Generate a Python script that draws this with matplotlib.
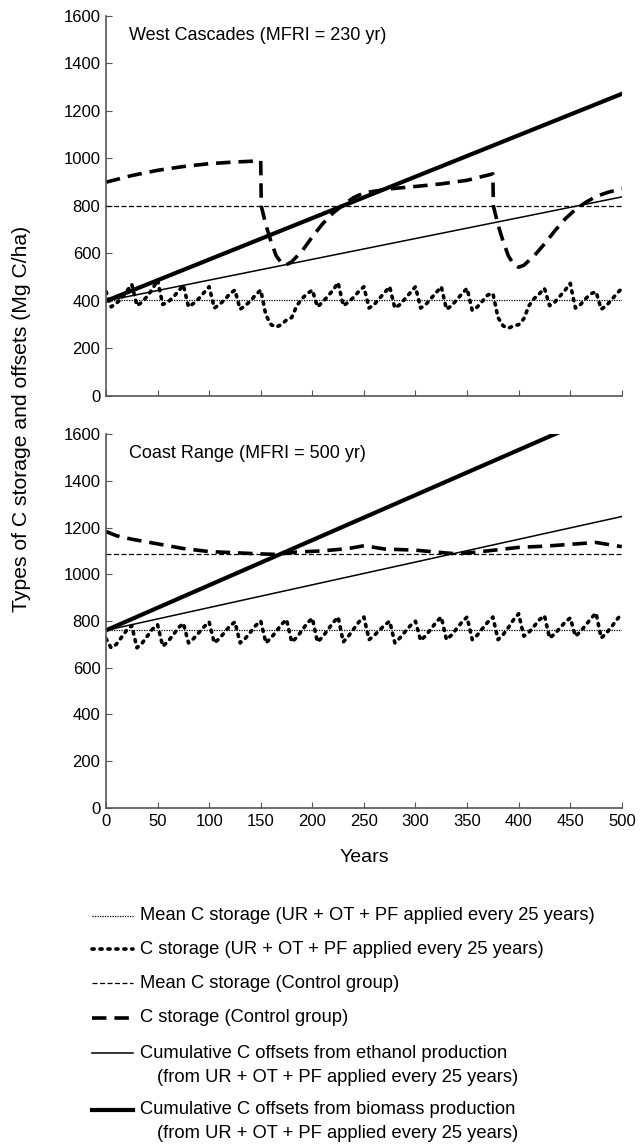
import matplotlib
matplotlib.use("Agg")
import matplotlib.pyplot as plt

# years sampled every 5 years for the treated (UR + OT + PF) storage curves
years5 = list(range(0, 505, 5))

wc_treated = [
    440, 375, 390, 410, 440,
    470, 380, 395, 420, 450,
    488, 385, 395, 415, 440,
    467, 375, 390, 410, 435,
    460, 370, 385, 405, 430,
    446, 365, 380, 400, 425,
    446, 340, 300, 290, 300,
    320, 330, 380, 410, 430,
    446, 375, 395, 420, 445,
    477, 380, 395, 415, 440,
    460, 370, 385, 410, 435,
    460, 370, 385, 410, 435,
    460, 370, 385, 410, 435,
    460, 365, 380, 405, 430,
    453, 360, 375, 400, 425,
    432, 330, 295, 285, 295,
    300, 325, 380, 410, 430,
    453, 380, 395, 420, 445,
    474, 370, 385, 410, 430,
    439, 365, 380, 405, 430,
    453,
]

cr_treated = [
    725, 685, 700, 730, 760,
    780, 685, 705, 735, 765,
    784, 692, 712, 740, 770,
    790, 706, 725, 750, 775,
    796, 706, 725, 752, 778,
    796, 706, 725, 752, 780,
    800, 706, 728, 755, 785,
    806, 710, 730, 760, 790,
    812, 710, 732, 762, 792,
    817, 710, 735, 765, 795,
    817, 720, 738, 760, 782,
    799, 706, 728, 755, 780,
    799, 716, 738, 765, 795,
    817, 720, 740, 768, 795,
    817, 720, 740, 768, 795,
    817, 720, 742, 772, 805,
    831, 735, 752, 778, 805,
    823, 727, 745, 770, 795,
    813, 735, 755, 782, 810,
    834, 727, 748, 775, 805,
    831,
]

# control group storage
wc_ctrl_years = [0, 25, 50, 75, 100, 125, 150, 150.5, 155, 160, 165, 170, 174, 180, 190,
                 200, 210, 220, 230, 240, 250, 275, 300, 325, 350, 375, 375.5, 380, 385,
                 390, 395, 400, 405, 415, 425, 435, 445, 455, 465, 475, 487, 500]
wc_ctrl = [900, 928, 950, 966, 978, 985, 990, 800, 720, 650, 590, 560, 550, 565, 610,
           670, 725, 770, 805, 835, 855, 872, 882, 893, 908, 935, 800, 720, 650,
           590, 555, 542, 550, 590, 640, 695, 745, 785, 815, 840, 858, 872]

cr_ctrl_years = [0, 10, 25, 50, 75, 100, 125, 150, 165, 185, 210, 235, 250, 270, 300,
                 320, 340, 360, 380, 400, 425, 450, 475, 490, 500]
cr_ctrl = [1183, 1165, 1150, 1130, 1110, 1097, 1092, 1087, 1085, 1095, 1100, 1110, 1122,
           1108, 1103, 1095, 1087, 1095, 1105, 1115, 1120, 1128, 1136, 1125, 1118]

# linear offsets and means (start, end)
ends = [0, 500]
wc_biomass = [400, 1272]
wc_ethanol = [400, 838]
wc_mean_ctrl = [800, 800]
wc_mean_treated = [402, 402]

cr_biomass = [760, 1725]
cr_ethanol = [760, 1247]
cr_mean_ctrl = [1087, 1087]
cr_mean_treated = [763, 763]

titles = ["West Cascades (MFRI = 230 yr)", "Coast Range (MFRI = 500 yr)"]
legend_labels = [
    ["Mean C storage (UR + OT + PF applied every 25 years)"],
    ["C storage (UR + OT + PF applied every 25 years)"],
    ["Mean C storage (Control group)"],
    ["C storage (Control group)"],
    ["Cumulative C offsets from ethanol production",
     "(from UR + OT + PF applied every 25 years)"],
    ["Cumulative C offsets from biomass production",
     "(from UR + OT + PF applied every 25 years)"],
]

plt.rcParams["font.family"] = ["Liberation Sans", "DejaVu Sans"]

styles = {
    "mean_treated": dict(color="black", lw=0.9, ls=(0, (1, 1))),
    "treated": dict(color="black", lw=2.6, ls=(0, (0.6, 1.6)), dash_capstyle="round"),
    "mean_ctrl": dict(color="black", lw=0.9, ls=(0, (4, 2))),
    "ctrl": dict(color="black", lw=2.6, ls=(0, (4, 2.2))),
    "ethanol": dict(color="black", lw=1.1, ls="-"),
    "biomass": dict(color="black", lw=3.0, ls="-"),
}
style_order = ["mean_treated", "treated", "mean_ctrl", "ctrl", "ethanol", "biomass"]

fig = plt.figure(figsize=(6.4, 11.47), dpi=100)
ax1 = fig.add_axes([0.1656, 0.6548, 0.806, 0.3313])
ax2 = fig.add_axes([0.1656, 0.2956, 0.806, 0.3260])

panels = [
    (ax1, wc_treated, wc_ctrl_years, wc_ctrl, wc_biomass, wc_ethanol, wc_mean_ctrl, wc_mean_treated),
    (ax2, cr_treated, cr_ctrl_years, cr_ctrl, cr_biomass, cr_ethanol, cr_mean_ctrl, cr_mean_treated),
]

for i, (ax, tr, cy, cv, bio, eth, mc, mt) in enumerate(panels):
    ax.plot(ends, mt, **styles["mean_treated"])
    ax.plot(years5, tr, **styles["treated"])
    ax.plot(ends, mc, **styles["mean_ctrl"])
    ax.plot(cy, cv, **styles["ctrl"])
    ax.plot(ends, eth, **styles["ethanol"])
    ax.plot(ends, bio, **styles["biomass"])

    ax.set_xlim(0, 500)
    ax.set_ylim(0, 1600)
    ax.set_xticks(range(0, 501, 50))
    ax.set_yticks(range(0, 1601, 200))
    for s in ["top", "right"]:
        ax.spines[s].set_visible(False)
    for s in ["left", "bottom"]:
        ax.spines[s].set_color("#555555")
        ax.spines[s].set_linewidth(1.2)
    ax.tick_params(direction="in", length=4, width=0.8, color="#555555", labelsize=12, pad=4)
    ax.text(0.045, 0.948, titles[i], transform=ax.transAxes, fontsize=13, va="center", ha="left")

ax1.tick_params(labelbottom=False)
ax2.set_xlabel("Years", fontsize=14, labelpad=15)

fig.text(0.034, 0.635, "Types of C storage and offsets (Mg C/ha)", rotation=90,
         fontsize=15.2, ha="center", va="center")

# legend drawn in a pixel-based overlay axes
lax = fig.add_axes([0, 0, 1, 1])
lax.set_xlim(0, 640)
lax.set_ylim(1147, 0)
lax.axis("off")
row_y = [916, 949, 983, 1018, 1053, 1110]
for y, key, lines in zip(row_y, style_order, legend_labels):
    lax.plot([92, 133], [y, y], **styles[key])
    lax.text(140, y, lines[0], fontsize=13.2, va="center", ha="left")
    if len(lines) > 1:
        lax.text(157, y + 24, lines[1], fontsize=13.2, va="center", ha="left")

fig.savefig("out.png", dpi=100)
